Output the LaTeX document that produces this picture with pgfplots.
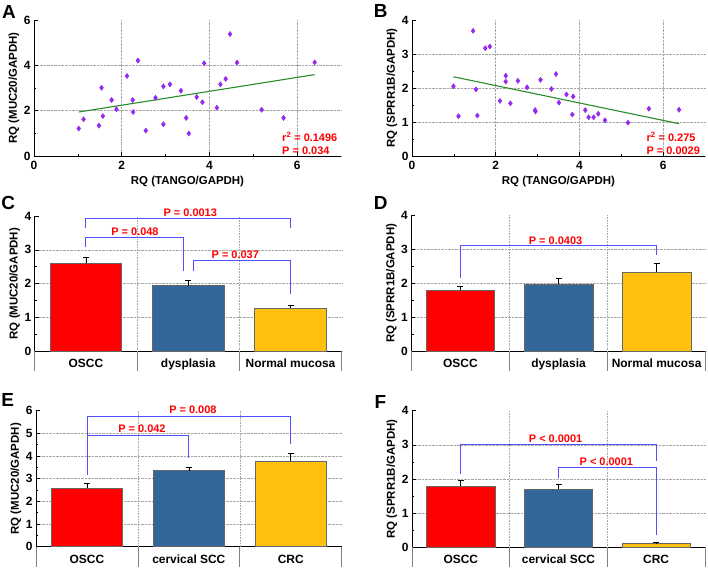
\documentclass[border=0pt]{standalone}
\usepackage{pgfplots}
\pgfplotsset{compat=1.18}
\usepackage{fontspec}
\setmainfont{Liberation Sans}
\definecolor{barred}{RGB}{255,0,0}
\definecolor{barblue}{RGB}{51,102,153}
\definecolor{baryel}{RGB}{255,193,14}
\definecolor{brk}{RGB}{80,80,255}
\definecolor{pur}{RGB}{150,40,240}
\definecolor{lgreen}{RGB}{40,140,40}
\definecolor{ptxt}{RGB}{255,0,0}
\tikzset{
  pval/.style={text=ptxt, font=\fontsize{11}{12}\selectfont\bfseries},
  lbl/.style={font=\fontsize{19}{19}\selectfont\bfseries},
  sep/.style={black!50, line width=0.8bp},
  vg/.style={densely dotted, black!35, line width=0.6bp},
}
\pgfplotsset{
  panel/.style={
    scale only axis, anchor=south west, clip=false,
    axis lines*=left,
    axis line style={black, line width=0.8bp},
    tick style={black, line width=0.6bp},
    tick align=inside, major tick length=4bp, minor tick length=2.2bp,
    grid style={densely dotted, black!35, line width=0.6bp},
    tick label style={font=\fontsize{12}{14}\selectfont\bfseries},
    /pgf/number format/assume math mode=true,
    label style={font=\fontsize{11.5}{13}\selectfont\bfseries},
    ylabel style={at={([xshift=-20bp]axis description cs:0,0.5)}, anchor=center},
    xticklabel style={yshift=-2bp},
  },
  scat/.style={panel, xmin=0, xmax=7, xtick={0,2,4,6}, minor x tick num=1,
    ymin=0, xmajorgrids, ymajorgrids, minor y tick num=1,
    extra y tick style={grid=none},
    xlabel={RQ (TANGO/GAPDH)},
    xlabel style={at={([yshift=-26bp]axis description cs:0.5,0)}, anchor=center}},
  barp/.style={panel, xmin=-0.5, xmax=2.5, xtick={0,1,2}, xtick style={draw=none},
    ymin=0, ymajorgrids, minor y tick num=1, extra y tick style={grid=none},
    xticklabel style={yshift=-2.5bp}},
  br/.style={ybar, bar width=0.7, bar shift=0pt, draw=black!60, line width=0.6bp,
    error bars/y dir=plus, error bars/y explicit,
    error bars/error bar style={black, line width=0.7bp},
    error bars/error mark options={black, rotate=90, mark size=3bp, line width=0.7bp}},
  bk/.style={brk, line width=0.9bp, no marks},
  dots/.style={only marks, mark=diamond*, mark size=2.6bp, pur, mark options={draw=pur, fill=pur}},
  fitl/.style={lgreen, line width=1.1bp, no marks},
}
\newcommand{\seps}[1]{%
  \draw[sep] (axis cs:-0.5,0) -- ([yshift=-20bp]axis cs:-0.5,0);
  \draw[sep] (axis cs:0.5,0) -- ([yshift=-20bp]axis cs:0.5,0);
  \draw[sep] (axis cs:1.5,0) -- ([yshift=-20bp]axis cs:1.5,0);
  \draw[sep] (axis cs:2.5,0) -- ([yshift=-20bp]axis cs:2.5,0);
  \draw[vg] (axis cs:0.5,0) -- (axis cs:0.5,#1);
  \draw[vg] (axis cs:1.5,0) -- (axis cs:1.5,#1);
}
\begin{document}
\begin{tikzpicture}
\path[use as bounding box] (0,0) rectangle (708bp,570bp);
\node[lbl] at (9bp,558.5bp) {A};
\node[lbl] at (380.7bp,559bp) {B};
\node[lbl] at (8.3bp,366.7bp) {C};
\node[lbl] at (380.7bp,366.7bp) {D};
\node[lbl] at (7.8bp,170bp) {E};
\node[lbl] at (380.3bp,168.3bp) {F};

% ---------- A ----------
\begin{axis}[scat, at={(34bp,414bp)}, width=307bp, height=136bp,
  ymax=6, ytick={0,2,4}, extra y ticks={6}, ylabel={RQ (MUC20/GAPDH)}]
\addplot[dots] coordinates {
(1.02,1.21) (1.13,1.62) (1.48,1.34) (1.54,3.01) (1.57,1.76) (1.77,2.47)
(1.88,2.06) (2.12,3.53) (2.25,2.47) (2.26,1.94) (2.37,4.21) (2.55,1.12)
(2.77,2.57) (2.95,3.07) (2.95,1.40) (3.10,3.16) (3.35,2.88) (3.47,1.68)
(3.53,0.99) (3.71,2.60) (3.84,2.37) (3.88,4.09) (4.17,2.13) (4.25,3.16)
(4.37,3.40) (4.47,5.38) (4.63,4.12) (5.19,2.04) (5.69,1.68) (6.40,4.13)};
\addplot[fitl] coordinates {(1.02,1.94) (6.40,3.59)};
\node[pval, anchor=west] at (axis cs:5.58,0.84) {r\textsuperscript{2} = 0.1496};
\node[pval, anchor=west] at (axis cs:5.58,0.24) {P = 0.034};
\end{axis}

% ---------- B ----------
\begin{axis}[scat, at={(412bp,414bp)}, width=293bp, height=136bp,
  ymax=4, ytick={0,1,2,3}, extra y ticks={4}, ylabel={RQ (SPRR1B/GAPDH)}]
\addplot[dots] coordinates {
(0.99,2.05) (1.11,1.17) (1.46,3.68) (1.53,1.96) (1.56,1.19) (1.75,3.17)
(1.86,3.22) (2.10,1.62) (2.24,2.36) (2.24,2.19) (2.35,1.55) (2.53,2.21)
(2.75,2.02) (2.94,1.35) (2.95,1.31) (3.07,2.24) (3.33,1.97) (3.44,2.41)
(3.51,1.57) (3.69,1.81) (3.85,1.75) (3.83,1.22) (4.14,1.35) (4.22,1.14)
(4.34,1.14) (4.45,1.24) (4.61,1.05) (5.16,0.98) (5.66,1.39) (6.38,1.36)};
\addplot[fitl] coordinates {(0.99,2.33) (6.38,0.95)};
\node[pval, anchor=west] at (axis cs:5.52,0.57) {r\textsuperscript{2} = 0.275};
\node[pval, anchor=west] at (axis cs:5.52,0.16) {P = 0.0029};
\end{axis}

% ---------- C ----------
\begin{axis}[barp, at={(34.7bp,218.7bp)}, width=307bp, height=135.3bp,
  ymax=4, ytick={0,1,2,3}, extra y ticks={4}, ylabel={RQ (MUC20/GAPDH)},
  xticklabels={OSCC, dysplasia, Normal mucosa}]
\seps{4}
\addplot[fill=barred, br] coordinates {(0,2.60) +- (0,0.19)};
\addplot[fill=barblue, br] coordinates {(1,1.94) +- (0,0.16)};
\addplot[fill=baryel, br] coordinates {(2,1.27) +- (0,0.09)};
\addplot[bk] coordinates {(0,3.66) (0,3.92) (2,3.92) (2,3.66)};
\addplot[bk] coordinates {(0,3.09) (0,3.36) (0.95,3.36) (0.95,2.37)};
\addplot[bk] coordinates {(1.05,2.37) (1.05,2.69) (2,2.69) (2,1.69)};
\node[pval] at (axis cs:1.02,4.10) {P = 0.0013};
\node[pval] at (axis cs:0.48,3.54) {P = 0.048};
\node[pval] at (axis cs:1.46,2.85) {P = 0.037};
\end{axis}

% ---------- D ----------
\begin{axis}[barp, at={(411.3bp,218.7bp)}, width=294.4bp, height=136bp,
  ymax=4, ytick={0,1,2,3}, extra y ticks={4}, ylabel={RQ (SPRR1B/GAPDH)},
  xticklabels={OSCC, dysplasia, Normal mucosa}]
\seps{4}
\addplot[fill=barred, br] coordinates {(0,1.79) +- (0,0.12)};
\addplot[fill=barblue, br] coordinates {(1,1.97) +- (0,0.18)};
\addplot[fill=baryel, br] coordinates {(2,2.33) +- (0,0.26)};
\addplot[bk] coordinates {(0,2.17) (0,3.12) (2,3.12) (2,2.84)};
\node[pval] at (axis cs:0.97,3.25) {P = 0.0403};
\end{axis}

% ---------- E ----------
\begin{axis}[barp, at={(36bp,23.3bp)}, width=305.7bp, height=136bp,
  ymax=6, ytick={0,1,2,3,4,5}, extra y ticks={6}, ylabel={RQ (MUC20/GAPDH)},
  xticklabels={OSCC, cervical SCC, CRC}]
\seps{6}
\addplot[fill=barred, br] coordinates {(0,2.59) +- (0,0.19)};
\addplot[fill=barblue, br] coordinates {(1,3.35) +- (0,0.16)};
\addplot[fill=baryel, br] coordinates {(2,3.78) +- (0,0.34)};
\addplot[bk] coordinates {(0,3.18) (0,5.75) (2,5.75) (2,4.51)};
\addplot[bk] coordinates {(0,3.18) (0,4.90) (1,4.90) (1,3.93)};
\node[pval] at (axis cs:1.04,6.03) {P = 0.008};
\node[pval] at (axis cs:0.54,5.19) {P = 0.042};
\end{axis}

% ---------- F ----------
\begin{axis}[barp, at={(412bp,22.7bp)}, width=293bp, height=136.6bp,
  ymax=4, ytick={0,1,2,3}, extra y ticks={4}, ylabel={RQ (SPRR1B/GAPDH)},
  xticklabels={OSCC, cervical SCC, CRC}]
\seps{4}
\addplot[fill=barred, br] coordinates {(0,1.80) +- (0,0.17)};
\addplot[fill=barblue, br] coordinates {(1,1.71) +- (0,0.13)};
\addplot[fill=baryel, br] coordinates {(2,0.11) +- (0,0.04)};
\addplot[bk] coordinates {(0,2.14) (0,3.00) (2,3.00) (2,2.53)};
\addplot[bk] coordinates {(1,2.02) (1,2.33) (2,2.33) (2,0.35)};
\node[pval] at (axis cs:0.97,3.18) {P < 0.0001};
\node[pval] at (axis cs:1.49,2.51) {P < 0.0001};
\end{axis}
\end{tikzpicture}
\end{document}
